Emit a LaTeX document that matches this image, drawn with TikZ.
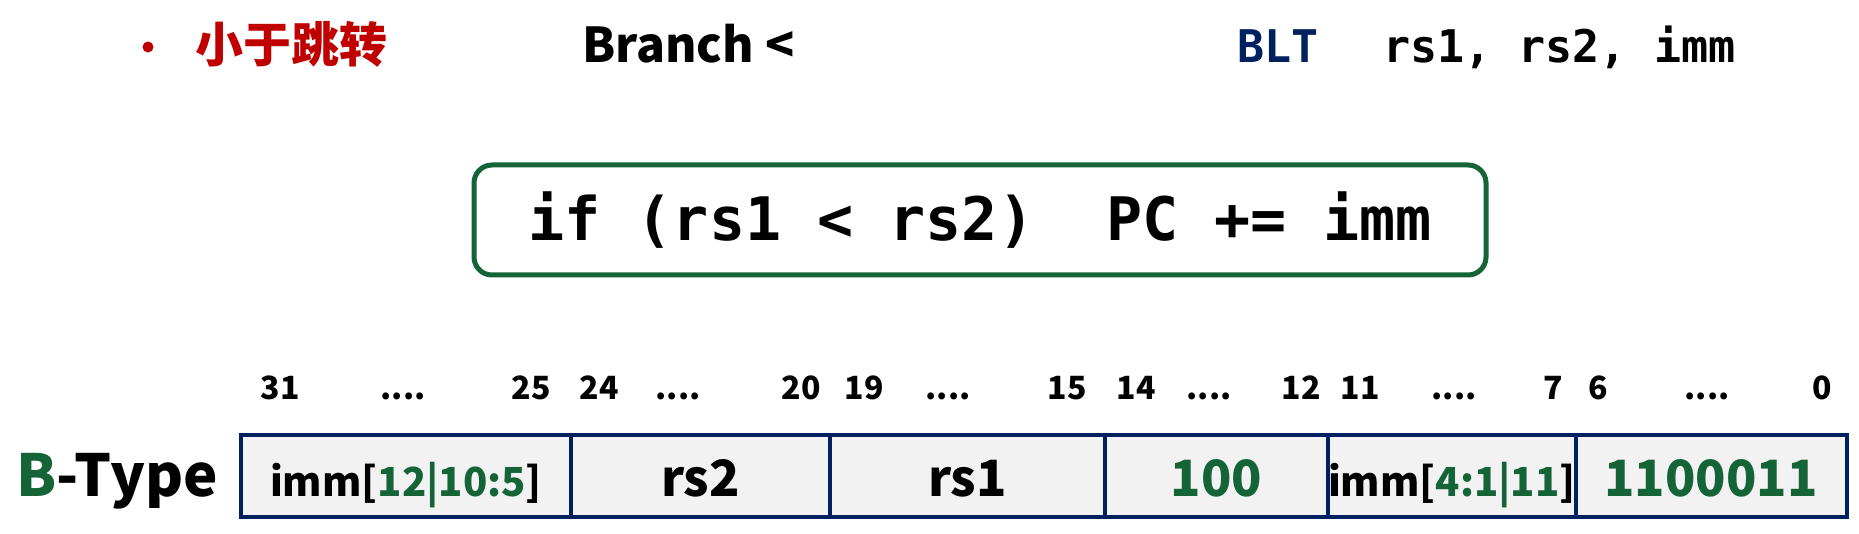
\documentclass[tikz,border=0pt]{standalone}
\usepackage{fontspec}
\setmainfont{Noto Sans CJK SC}
\setmonofont{DejaVu Sans Mono}
\usetikzlibrary{positioning}
\definecolor{tred}{RGB}{192,0,0}
\definecolor{tgreen}{RGB}{20,100,55}
\definecolor{tnavy}{RGB}{0,32,96}
\definecolor{tgrey}{RGB}{242,242,242}

\tikzstyle{heading} = [anchor=base west, inner sep=0pt, font=\fontsize{48}{48}\selectfont\bfseries]
\tikzstyle{code} = [anchor=base west, inner sep=0pt, font=\fontsize{45}{45}\selectfont\ttfamily\bfseries]
\tikzstyle{cond} = [rectangle, rounded corners=18pt, minimum width=1012pt, minimum height=110pt, draw=tgreen, line width=5pt, font=\fontsize{60}{60}\selectfont\ttfamily\bfseries]
\tikzstyle{bitno} = [anchor=base, inner sep=0pt, font=\fontsize{32}{32}\selectfont\bfseries]
\tikzstyle{field} = [rectangle, minimum height=82pt, text height=40pt, text depth=0pt, inner sep=0pt, outer sep=0pt, draw=tnavy, line width=4pt, fill=tgrey, font=\fontsize{50}{50}\selectfont\bfseries]
\tikzstyle{immf} = [field, font=\fontsize{40}{40}\selectfont\bfseries]

\begin{document}
\begin{tikzpicture}[x=1pt, y=-1pt]
  \useasboundingbox (0,0) rectangle (1859,534);

  \node (dot) [circle, fill=tred, minimum size=11pt, inner sep=0pt] at (148,47) {};
  \node (name) [heading, text=tred] at (195,63) {小于跳转};
  \node (desc) [heading] at (582,63) {Branch <};
  \node (mnem) [code, text=tnavy] at (1237,63) {BLT};
  \node (args) [code] at (1383,63) {rs1, rs2, imm};

  \node (rule) [cond] at (980,220) {if (rs1 < rs2)\ \ PC += imm};

  \node (btype) [heading, font=\fontsize{58}{58}\selectfont\bfseries] at (16,496) {\textcolor{tgreen}{B}-Type};

  \node (f1) [immf, minimum width=330pt, anchor=west] at (241,476) {imm[\textcolor{tgreen}{12|10:5}]};
  \node (f2) [field, minimum width=259pt, right=0pt of f1] {rs2};
  \node (f3) [field, minimum width=275pt, right=0pt of f2] {rs1};
  \node (f4) [field, minimum width=223pt, right=0pt of f3, text=tgreen] {100};
  \node (f5) [immf, minimum width=246pt, right=0pt of f4] {imm[\textcolor{tgreen}{4:1|11}]};
  \node (f6) [field, minimum width=271pt, right=0pt of f5, text=tgreen] {1100011};

  \node (b31) [bitno] at (280,399) {31};
  \node (d1) [bitno] at (403,399) {....};
  \node (b25) [bitno] at (531,399) {25};
  \node (b24) [bitno] at (599,399) {24};
  \node (d2) [bitno] at (678,399) {....};
  \node (b20) [bitno] at (801,399) {20};
  \node (b19) [bitno] at (864,399) {19};
  \node (d3) [bitno] at (948,399) {....};
  \node (b15) [bitno] at (1067,399) {15};
  \node (b14) [bitno] at (1136,399) {14};
  \node (d4) [bitno] at (1209,399) {....};
  \node (b12) [bitno] at (1301,399) {12};
  \node (b11) [bitno] at (1360,399) {11};
  \node (d5) [bitno] at (1454,399) {....};
  \node (b7) [bitno] at (1553,399) {7};
  \node (b6) [bitno] at (1598,399) {6};
  \node (d6) [bitno] at (1707,399) {....};
  \node (b0) [bitno] at (1822,399) {0};
\end{tikzpicture}
\end{document}
